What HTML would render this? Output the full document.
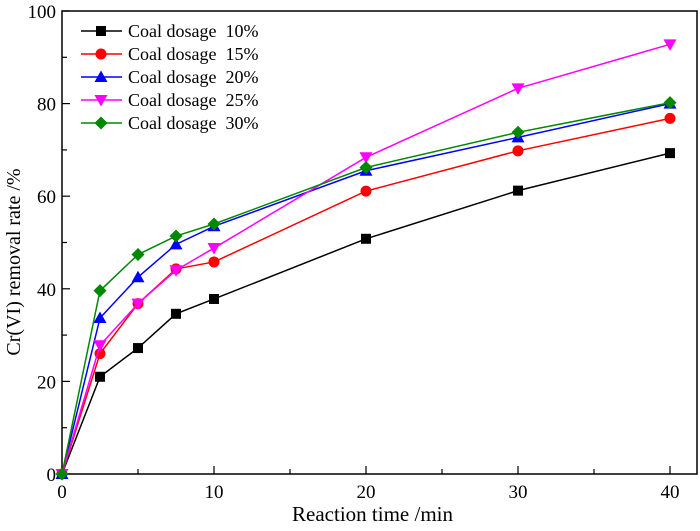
<!DOCTYPE html>
<html><head><meta charset="utf-8"><style>body{margin:0;background:#fff}svg{font-family:"Liberation Serif",serif}</style></head>
<body>
<svg id="c" width="700" height="526"></svg>
<script>
const times=[0,2.5,5,7.5,10,20,30,40];
const s10=[0,21,27.2,34.6,37.8,50.8,61.2,69.3];
const s15=[0,26,36.8,44.3,45.8,61.1,69.8,76.8];
const s20=[0,33.7,42.5,49.6,53.5,65.5,72.7,80];
const s25=[0,27.8,36.8,44,48.8,68.4,83.3,92.8];
const s30=[0,39.6,47.4,51.4,54,66.2,73.8,80.2];
const seriesNames=["Coal dosage  10%","Coal dosage  15%","Coal dosage  20%","Coal dosage  25%","Coal dosage  30%"];
const xTicks=[0,10,20,30,40];
const yTicks=[0,20,40,60,80,100];
const series=[s10,s15,s20,s25,s30];
const colors=["#000","#f00","#00f","#f0f","#080"];
const markers=["square","circle","up","down","diamond"];
const L=62,R=697,T=11,B=474;
const X=v=>L+v*15.2, Y=v=>B-v*4.63;
const svg=document.getElementById('c');const NS="http://www.w3.org/2000/svg";
function mk(t,a,p){const e=document.createElementNS(NS,t);for(const k in a)e.setAttribute(k,a[k]);(p||svg).appendChild(e);return e;}
function marker(type,x,y,c,g){
 if(type==="square")return mk('rect',{x:x-5,y:y-5,width:10,height:10,fill:c},g);
 if(type==="circle")return mk('circle',{cx:x,cy:y,r:5.5,fill:c},g);
 if(type==="up")return mk('polygon',{points:`${x},${y-6.5} ${x+6.5},${y+5} ${x-6.5},${y+5}`,fill:c},g);
 if(type==="down")return mk('polygon',{points:`${x},${y+6.5} ${x+6.5},${y-5} ${x-6.5},${y-5}`,fill:c},g);
 return mk('polygon',{points:`${x},${y-6.5} ${x+6.5},${y} ${x},${y+6.5} ${x-6.5},${y}`,fill:c},g);
}
const frame=mk('rect',{x:L,y:T,width:R-L,height:B-T,fill:'none',stroke:'#000','stroke-width':1.5});

for(let v=0;v<=40;v+=5){const maj=v%10===0;mk('line',{x1:X(v),x2:X(v),y1:B,y2:B-(maj?8:5),stroke:'#000','stroke-width':1.2});}
for(let v=0;v<=100;v+=10){const maj=v%20===0;mk('line',{x1:L,x2:L+(maj?8:5),y1:Y(v),y2:Y(v),stroke:'#000','stroke-width':1.2});}
xTicks.forEach(v=>{const t=mk('text',{x:X(v),y:B+24,'text-anchor':'middle','font-size':19});t.textContent=v;});
yTicks.forEach(v=>{const t=mk('text',{x:L-6,y:Y(v)+7,'text-anchor':'end','font-size':19});t.textContent=v;});
const xt=mk('text',{x:(L+R)/2-7,y:521,'text-anchor':'middle','font-size':21});xt.textContent="Reaction time /min";

const yt=mk('text',{x:0,y:0,'text-anchor':'middle','font-size':20,transform:`translate(20,262) rotate(-90)`});yt.textContent="Cr(VI) removal rate /%";

series.forEach((s,i)=>{
 const g=mk('g',{});
 
 
 mk('polyline',{points:s.map((v,j)=>X(times[j])+','+Y(v)).join(' '),fill:'none',stroke:colors[i],'stroke-width':1.5},g);
 s.forEach((v,j)=>marker(markers[i],X(times[j]),Y(v),colors[i],g));
 const lg=mk('g',{});
 
 
 const ly=31+i*23;
 mk('line',{x1:81,x2:122,y1:ly,y2:ly,stroke:colors[i],'stroke-width':1.5},lg);
 marker(markers[i],101,ly,colors[i],lg);
 const t=mk('text',{x:128,y:ly+6,'font-size':18},lg);t.textContent=seriesNames[i];t.style.whiteSpace='pre';
});
</script>
</body></html>
